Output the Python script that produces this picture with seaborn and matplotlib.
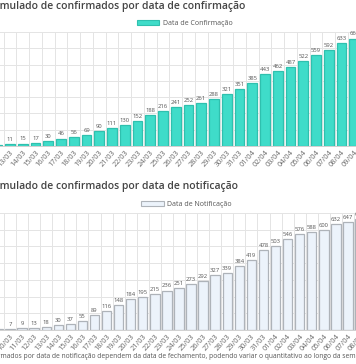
# bar charts: accumulated confirmed cases by confirmation date / notification date
import matplotlib
matplotlib.use("Agg")
import matplotlib.pyplot as plt
from matplotlib.patches import Patch
import seaborn as sns
import pandas as pd

# top chart - by confirmation date
conf_dates = ["12/03", "13/03", "14/03", "15/03", "16/03", "17/03", "18/03", "19/03",
              "20/03", "21/03", "22/03", "23/03", "24/03", "25/03", "26/03", "27/03",
              "28/03", "29/03", "30/03", "31/03", "01/04", "02/04", "03/04", "04/04",
              "05/04", "06/04", "07/04", "08/04", "09/04"]
conf_values = [8, 11, 15, 17, 30, 46, 56, 69, 90, 111, 130, 152, 188, 216, 241, 252,
               261, 288, 321, 351, 385, 443, 462, 487, 522, 559, 592, 633, 660]

# bottom chart - by notification date
notif_dates = ["09/03", "10/03", "11/03", "12/03", "13/03", "14/03", "15/03", "16/03",
               "17/03", "18/03", "19/03", "20/03", "21/03", "22/03", "23/03", "24/03",
               "25/03", "26/03", "27/03", "28/03", "29/03", "30/03", "31/03", "01/04",
               "02/04", "03/04", "04/04", "05/04", "06/04", "07/04", "08/04"]
notif_values = [5, 7, 9, 13, 18, 30, 37, 55, 89, 116, 148, 184, 195, 215, 236, 251,
                273, 292, 327, 339, 384, 419, 478, 503, 546, 576, 588, 600, 632, 647, 663]

title_top = "Acumulado de confirmados por data de confirmação"
title_bot = "Acumulado de confirmados por data de notificação"
note = ("*Os casos confirmados por data de notificação dependem da data de fechamento, "
        "podendo variar o quantitativo ao longo da semana.")

sns.set_style("white")
plt.rcParams["font.family"] = ["Open Sans", "DejaVu Sans"]

W, H = 356, 364
fig = plt.figure(figsize=(W / 100, H / 100), dpi=100)


def px_axes(x0, x1, ybase, ytop):
    # axes rectangle given in pixel coords (from top-left)
    return fig.add_axes([x0 / W, 1 - ybase / H, (x1 - x0) / W, (ybase - ytop) / H])


def draw(ax, dates, values, face, edge, label, leg_x):
    df = pd.DataFrame({"date": dates, "value": values})
    sns.barplot(data=df, x="date", y="value", ax=ax, color=face, saturation=1,
                width=0.78, edgecolor=edge, linewidth=0.9)
    ax.set_xlim(-0.5, len(dates) - 0.5)
    ax.set_ylim(0, 700)
    ax.set_yticks(range(0, 701, 100))
    ax.set_yticklabels([])
    ax.set_xticks([i + 0.5 for i in range(-1, len(dates))], minor=True)
    ax.grid(False)
    ax.grid(True, which="minor", axis="x", color="#e4e4e4", linewidth=0.7)
    ax.grid(True, which="major", axis="y", color="#e4e4e4", linewidth=0.7)
    ax.set_axisbelow(True)
    ax.tick_params(axis="both", which="both", length=0)
    ax.set_xticks(range(len(dates)))
    ax.set_xticklabels(dates, rotation=48, ha="right", rotation_mode="anchor",
                       fontsize=5.3, color="#666666")
    ax.tick_params(axis="x", pad=2)
    ax.set_xlabel("")
    ax.set_ylabel("")
    for s in ["top", "right", "left"]:
        ax.spines[s].set_visible(False)
    ax.spines["bottom"].set_color("#d0d0d0")
    ax.spines["bottom"].set_linewidth(0.7)
    ax.bar_label(ax.containers[0], padding=1.5, fontsize=4.2, color="#555555")
    h = Patch(facecolor=face, edgecolor=edge, linewidth=0.8)
    ax.legend(handles=[h], labels=[label], loc="lower center",
              bbox_to_anchor=(leg_x, 1.02), frameon=False, fontsize=5,
              handlelength=3.2, handleheight=0.7, handletextpad=0.5,
              labelcolor="#555555", borderaxespad=0)


# top chart: 13/03 centered at x=10px, step 12.75px
s1 = 12.75
ax1 = px_axes(10 - 1.5 * s1, 10 + 27.5 * s1, 146, 32)
draw(ax1, conf_dates, conf_values, "#3fdcc9", "#2fc0ae", "Data de Confirmação", 0.525)

# bottom chart: 10/03 centered at x=10px, step 12.07px
s2 = 12.07
ax2 = px_axes(10 - 1.5 * s2, 10 + 29.5 * s2, 330, 213)
draw(ax2, notif_dates, notif_values, "#ecf3fb", "#aeb3b9", "Data de Notificação", 0.52)


def cut_text(full, cut_prefix, y_px, **kw):
    # place text so that cut_prefix falls just off the left edge
    renderer = fig.canvas.get_renderer()
    tmp = fig.text(0, 0, cut_prefix, **kw)
    w = tmp.get_window_extent(renderer).width
    tmp.remove()
    fig.text(-w / W, 1 - y_px / H, full, ha="left", va="center", **kw)


cut_text(title_top, "Acu", 6, fontsize=7.45, fontweight="semibold", color="#444444")
cut_text(title_bot, "Acu", 186, fontsize=7.45, fontweight="semibold", color="#444444")
cut_text(note, "*Os casos confir", 357, fontsize=4.9, color="#555555")

fig.savefig("out.png", dpi=100)
